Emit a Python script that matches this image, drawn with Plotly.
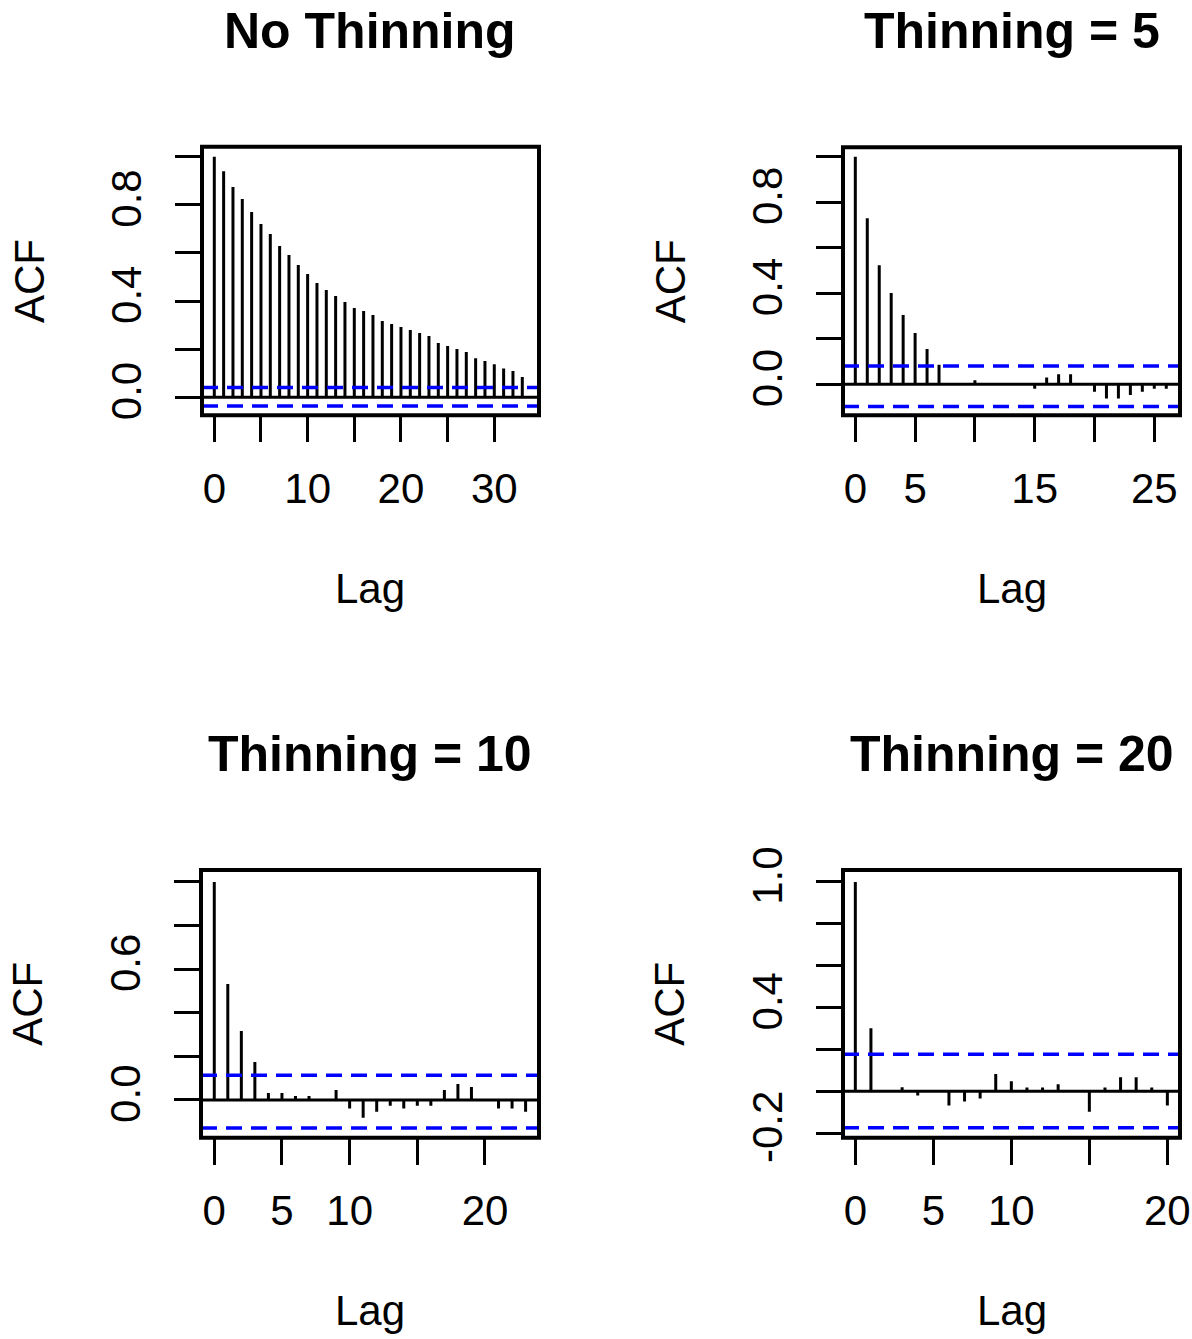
import plotly.graph_objects as go

# ---------------- data ----------------
titles = ["No Thinning", "Thinning = 5", "Thinning = 10", "Thinning = 20"]

acf_no_thin = [1.0, 0.940, 0.874, 0.824, 0.770, 0.720, 0.679, 0.629, 0.591, 0.550,
               0.512, 0.475, 0.446, 0.421, 0.396, 0.371, 0.359, 0.342, 0.317, 0.305,
               0.292, 0.280, 0.267, 0.255, 0.226, 0.213, 0.201, 0.188, 0.162, 0.151,
               0.137, 0.120, 0.109, 0.084]
acf_thin5 = [1.0, 0.729, 0.523, 0.401, 0.305, 0.225, 0.155, 0.086, 0.003, -0.002,
             0.018, 0.002, -0.003, 0.001, -0.002, -0.019, 0.030, 0.044, 0.044, 0.002,
             -0.033, -0.062, -0.062, -0.047, -0.033, -0.019, -0.019]
acf_thin10 = [1.0, 0.532, 0.317, 0.174, 0.032, 0.032, 0.018, 0.018, 0.002, 0.046,
              -0.039, -0.081, -0.054, -0.026, -0.039, -0.026, -0.026, 0.046, 0.073, 0.060,
              -0.002, -0.039, -0.039, -0.054]
acf_thin20 = [1.0, 0.301, 0.002, 0.019, -0.020, -0.002, -0.068, -0.049, -0.035, 0.082,
              0.048, 0.018, 0.018, 0.033, 0.002, -0.098, 0.018, 0.067, 0.067, 0.018,
              -0.068]
acf_series = [acf_no_thin, acf_thin5, acf_thin10, acf_thin20]

ci_upper = [0.041, 0.080, 0.113, 0.177]
ci_lower = [-0.036, -0.097, -0.128, -0.175]

x_tickvals = [[0, 5, 10, 15, 20, 25, 30], [0, 5, 10, 15, 20, 25],
              [0, 5, 10, 15, 20], [0, 5, 10, 15, 20]]
x_ticktext = [["0", "", "10", "", "20", "", "30"], ["0", "5", "", "15", "", "25"],
              ["0", "5", "10", "", "20"], ["0", "5", "10", "", "20"]]
y_tickvals = [[0.0, 0.2, 0.4, 0.6, 0.8, 1.0], [0.0, 0.2, 0.4, 0.6, 0.8, 1.0],
              [0.0, 0.2, 0.4, 0.6, 0.8, 1.0], [-0.2, 0.0, 0.2, 0.4, 0.6, 0.8, 1.0]]
y_ticktext = [["0.0", "", "0.4", "", "0.8", ""], ["0.0", "", "0.4", "", "0.8", ""],
              ["0.0", "", "", "0.6", "", ""], ["-0.2", "", "", "0.4", "", "", "1.0"]]

# ---------------- layout (pixels) ----------------
W, H = 1192, 1339
boxes = [(202, 539, 146.7, 415.3), (843, 1180, 147.3, 415.3),
         (201, 539, 870, 1137.7), (843, 1180, 870, 1137.7)]
x_ranges = [[-1.318, 34.79], [-1.03, 27.15], [-0.98, 23.99], [-0.79, 20.81]]
y_ranges = [[-0.0748, 1.0416], [-0.136, 1.041], [-0.173, 1.055], [-0.222, 1.057]]

FONT = "Liberation Sans, Arial, sans-serif"
TICK_FONT = dict(family=FONT, size=42, color="black")

fig = go.Figure()
layout = dict(width=W, height=H,
              margin=dict(l=0, r=0, t=0, b=0, pad=0, autoexpand=False),
              paper_bgcolor="white", plot_bgcolor="white", showlegend=False)
shapes, annotations = [], []

for i in range(4):
    n = i + 1
    xa = "x" if n == 1 else f"x{n}"
    ya = "y" if n == 1 else f"y{n}"
    xl, xr, yt, yb = boxes[i]

    xs, ys = [], []
    for k, v in enumerate(acf_series[i]):
        xs += [k, k, None]
        ys += [0, v, None]
    fig.add_trace(go.Scatter(x=xs, y=ys, mode="lines",
                             line=dict(color="black", width=3),
                             xaxis=xa, yaxis=ya, hoverinfo="skip"))

    common = dict(showgrid=False, zeroline=False, showline=False, automargin=False,
                  ticks="outside", ticklen=26, tickwidth=3, tickcolor="black",
                  tickfont=TICK_FONT, tickmode="array", fixedrange=True)
    layout["xaxis" if n == 1 else f"xaxis{n}"] = dict(
        domain=[xl / W, xr / W], range=x_ranges[i], anchor=ya,
        tickvals=x_tickvals[i], ticktext=x_ticktext[i], tickangle=0,
        ticklabelstandoff=10, **common)
    layout["yaxis" if n == 1 else f"yaxis{n}"] = dict(
        domain=[1 - yb / H, 1 - yt / H], range=y_ranges[i], anchor=xa,
        tickvals=y_tickvals[i], ticktext=y_ticktext[i], tickangle=-90,
        ticklabelstandoff=17, **common)

    xd, yd = f"{xa} domain", f"{ya} domain"
    # zero line
    shapes.append(dict(type="line", xref=xd, yref=ya, x0=0, x1=1, y0=0, y1=0,
                       line=dict(color="black", width=3)))
    # confidence bounds
    for c in (ci_upper[i], ci_lower[i]):
        shapes.append(dict(type="line", xref=xd, yref=ya, x0=0, x1=1, y0=c, y1=c,
                           line=dict(color="#0000FF", width=3.5, dash="16px,9px")))
    # frame
    shapes.append(dict(type="rect", xref=xd, yref=yd, x0=0, x1=1, y0=0, y1=1,
                       line=dict(color="black", width=4)))

    cx = (xl + xr) / 2 / W
    annotations.append(dict(text="<b>" + titles[i] + "</b>", xref="paper", yref="paper",
                            x=cx, y=1 - (yt - 116) / H, xanchor="center", yanchor="middle",
                            showarrow=False, font=dict(family=FONT, size=50, color="black")))
    annotations.append(dict(text="Lag", xref="paper", yref="paper",
                            x=cx, y=1 - (yb + 173) / H, xanchor="center", yanchor="middle",
                            showarrow=False, font=dict(family=FONT, size=42, color="black")))
    annotations.append(dict(text="ACF", xref="paper", yref="paper",
                            x=(xl - 173) / W, y=1 - (yt + yb) / 2 / H, textangle=-90,
                            xanchor="center", yanchor="middle",
                            showarrow=False, font=dict(family=FONT, size=42, color="black")))

layout["shapes"] = shapes
layout["annotations"] = annotations
fig.update_layout(**layout)
fig.write_html("out.html")
